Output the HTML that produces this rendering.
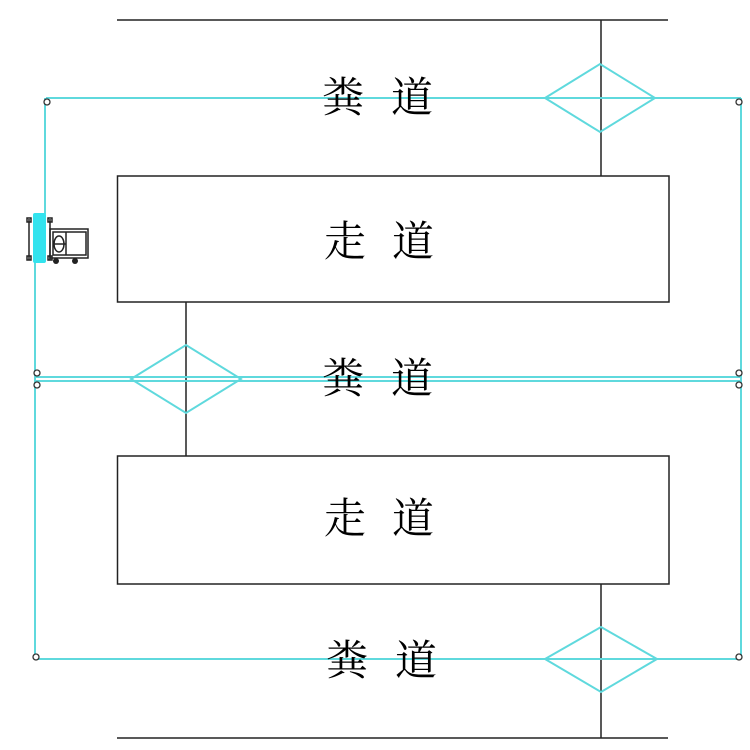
<!DOCTYPE html>
<html><head><meta charset="utf-8"><style>
html,body{margin:0;padding:0;background:#fff;}
svg{display:block;}
text{font-family:"Liberation Serif","Noto Serif CJK SC",serif;font-size:42px;fill:#000;}
</style></head><body>
<svg width="750" height="750" viewBox="0 0 750 750" xmlns="http://www.w3.org/2000/svg">
<!-- black rails -->
<g stroke="#222" stroke-width="1.5" fill="none">
<line x1="117" y1="20" x2="668" y2="20"/>
<line x1="117" y1="738" x2="668" y2="738"/>
<line x1="601" y1="20" x2="601" y2="176"/>
<line x1="601" y1="584" x2="601" y2="738"/>
<line x1="186" y1="302" x2="186" y2="456"/>
<rect x="117.5" y="176" width="551.5" height="126"/>
<rect x="117.5" y="456" width="551.5" height="128"/>
</g>
<!-- cyan -->
<g stroke="#5fd9dd" stroke-width="2" fill="none">
<polyline points="46,98 741,98"/>
<line x1="45" y1="98" x2="45" y2="214"/>
<line x1="35" y1="262" x2="35" y2="659"/>
<line x1="741" y1="98" x2="741" y2="659"/>
<line x1="36" y1="377" x2="741" y2="377"/>
<line x1="36" y1="381" x2="741" y2="381"/>
<line x1="36" y1="659" x2="741" y2="659"/>
<polygon points="545,98 600,64 655,98 600,132"/>
<polygon points="131,379 186,345 241,379 186,413"/>
<polygon points="545,659 601,627 657,659 601,692"/>
</g>
<!-- small rings -->
<g stroke="#333" stroke-width="1.3" fill="#fff">
<circle cx="47" cy="102" r="3"/>
<circle cx="739" cy="102" r="3"/>
<circle cx="37" cy="373" r="3"/>
<circle cx="37" cy="385" r="3"/>
<circle cx="739" cy="373" r="3"/>
<circle cx="739" cy="385" r="3"/>
<circle cx="36" cy="657" r="3"/>
<circle cx="739" cy="657" r="3"/>
</g>
<!-- tractor -->
<g stroke="#222" stroke-width="1.5" fill="none">
<line x1="29" y1="219" x2="29" y2="260"/>
<line x1="50" y1="219" x2="50" y2="260"/>
<rect x="27" y="218" width="4" height="4"/>
<rect x="27" y="256" width="4" height="4"/>
<rect x="48" y="218" width="4" height="4"/>
<rect x="48" y="256" width="4" height="4"/>
<rect x="50" y="229" width="38" height="29"/>
<rect x="53" y="232" width="33" height="23"/>
<line x1="66" y1="232" x2="66" y2="255"/>
<ellipse cx="59" cy="244" rx="5" ry="8"/>
<line x1="53" y1="244" x2="66" y2="244"/>
</g>
<circle cx="56" cy="261" r="3" fill="#222"/>
<circle cx="75" cy="261" r="3" fill="#222"/>
<rect x="33" y="213" width="13" height="50" rx="2" fill="#33e3ee"/>
<!-- labels -->
<text x="322" y="112">粪</text><text x="391" y="112">道</text>
<text x="324" y="256">走</text><text x="392" y="256">道</text>
<text x="322" y="393">粪</text><text x="391" y="393">道</text>
<text x="324" y="533">走</text><text x="392" y="533">道</text>
<text x="326" y="675">粪</text><text x="395" y="675">道</text>
</svg>
</body></html>
